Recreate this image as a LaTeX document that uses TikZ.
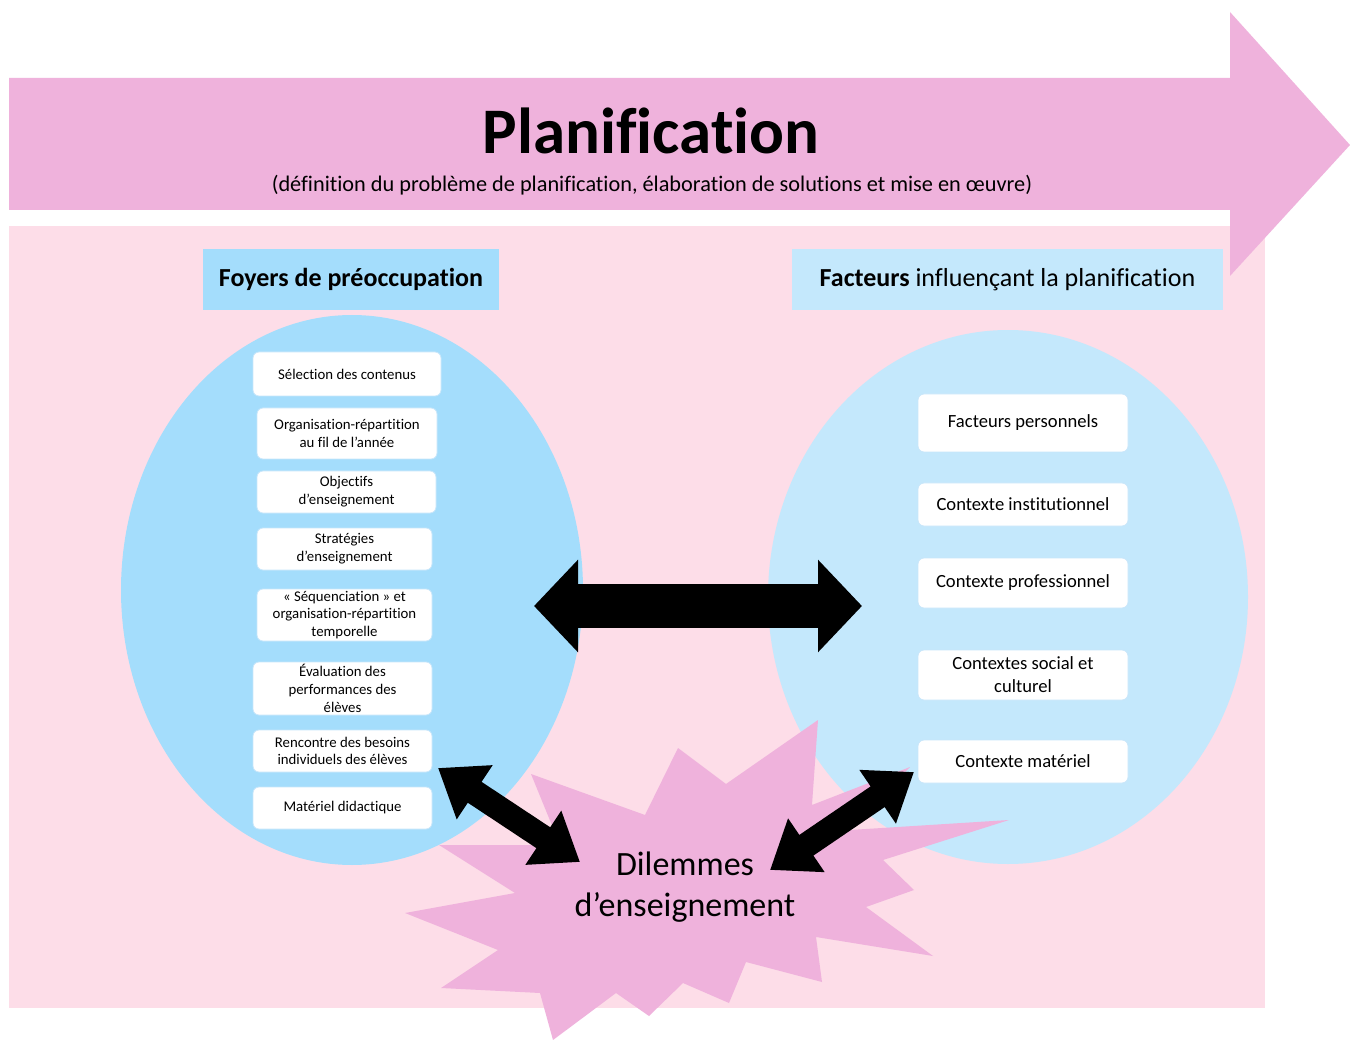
\documentclass[tikz,border=0pt]{standalone}
\usepackage{fontspec}
\setmainfont{Carlito}[Ligatures=NoCommon]
\usetikzlibrary{arrows.meta,shapes.geometric}
\definecolor{arrowpink}{RGB}{239,178,220}
\definecolor{bgpink}{RGB}{253,221,232}
\definecolor{blueA}{RGB}{164,221,252}
\definecolor{blueB}{RGB}{196,232,252}
\definecolor{boxline}{RGB}{200,230,250}
\tikzset{
  lbox/.style={draw=boxline, line width=0.8pt, fill=white, rounded corners=6pt, align=center,
    inner sep=1pt, font=\fontsize{14.8}{17.8}\selectfont},
  rbox/.style={draw=boxline, line width=0.8pt, fill=white, rounded corners=6pt, align=center,
    inner sep=1pt, minimum width=210pt, font=\fontsize{18.6}{23}\selectfont},
  hdr/.style={inner sep=0pt, font=\bfseries\fontsize{26}{30}\selectfont},
  fatarrows/.style={line width=44pt, {Triangle[length=44pt,width=90pt]}-{Triangle[length=44pt,width=90pt]}},
  diagarrows/.style={line width=25pt, {Triangle[length=44pt,width=62pt]}-{Triangle[length=44pt,width=62pt]}},
}
\begin{document}
\begin{tikzpicture}[x=1pt,y=-1pt]
\useasboundingbox (0,0) rectangle (1350,1040);
\fill[white] (0,0) rectangle (1350,1040);
% background panel
\fill[bgpink] (9,226) rectangle (1265,1008);
% big arrow
\fill[arrowpink] (9,78) -- (1230,78) -- (1230,12) -- (1350,145) -- (1230,276) -- (1230,210) -- (9,210) -- cycle;
\node[font=\bfseries\fontsize{65}{70}\selectfont, inner sep=0pt] (title) at (651,131) {Planification};
\node[font=\fontsize{22.3}{26}\selectfont, inner sep=0pt] (sub) at (652,185) {(définition du problème de planification, élaboration de solutions et mise en œuvre)};
% ellipses
\node[ellipse, fill=blueA, inner sep=0pt, minimum width=462pt, minimum height=550pt] (lell) at (352,590) {};
\node[ellipse, fill=blueB, inner sep=0pt, minimum width=480pt, minimum height=534pt] (rell) at (1008,597) {};
% star
\fill[arrowpink] (531,774) -- (645,815) -- (678,748) -- (726,784) -- (818,720) -- (812,805)
  -- (910,767) -- (850,830) -- (1009,820) -- (883,860) -- (914,890) -- (866,907)
  -- (933,956) -- (816,937) -- (822,982) -- (746,962) -- (729,1003) -- (683,983)
  -- (649,1016) -- (616,993) -- (553,1040) -- (540,993) -- (441,988) -- (498,950)
  -- (405,913) -- (515,893) -- (439,845) -- (560,845) -- cycle;
% headers
\node[fill=blueA, minimum width=296pt, minimum height=61pt, hdr] (hl) at (351,279.5) {Foyers de préoccupation};
\node[fill=blueB, minimum width=431pt, minimum height=61pt, hdr] (hr) at (1007.5,279.5) {Facteurs \mdseries influençant la planification};
% left boxes
\node[lbox, minimum width=188pt, minimum height=44pt] (l1) at (347,374) {Sélection des contenus};
\node[lbox, minimum width=180pt, minimum height=51pt] (l2) at (347,433.5) {Organisation-répartition\\au fil de l’année};
\node[lbox, minimum width=179pt, minimum height=42pt] (l3) at (346.5,492) {Objectifs\\d’enseignement};
\node[lbox, minimum width=175pt, minimum height=42pt] (l4) at (344.5,549) {Stratégies\\d’enseignement};
\node[lbox, minimum width=175pt, minimum height=52pt] (l5) at (344.5,615) {« Séquenciation » et\\organisation-répartition\\temporelle};
\node[lbox, minimum width=179pt, minimum height=53pt] (l6) at (342.5,688.5) {Évaluation des\\performances des\\élèves};
\node[lbox, minimum width=179pt, minimum height=42pt] (l7) at (342.5,751) {Rencontre des besoins\\individuels des élèves};
\node[lbox, minimum width=179pt, minimum height=42pt] (l8) at (342.5,808) {Matériel didactique};
% right boxes
\node[rbox, minimum height=58pt] (r1) at (1023,423) {Facteurs personnels};
\node[rbox, minimum height=43pt] (r2) at (1023,504.5) {Contexte institutionnel};
\node[rbox, minimum height=50pt] (r3) at (1023,583) {Contexte professionnel};
\node[rbox, minimum height=50pt] (r4) at (1023,675) {Contextes social et\\culturel};
\node[rbox, minimum height=43pt] (r5) at (1023,761.5) {Contexte matériel};
% dilemmes text
\node[align=center, inner sep=0pt, font=\fontsize{34}{41}\selectfont] (dil) at (685,887) {Dilemmes\\d’enseignement};
% arrows
\coordinate (hL) at (534,606);
\coordinate (hR) at (862,606);
\coordinate (dL1) at (438,768);
\coordinate (dL2) at (580,862);
\coordinate (dR1) at (770,870);
\coordinate (dR2) at (914,772);
\draw[fatarrows] (hL) -- (hR);
\draw[diagarrows] (dL1) -- (dL2);
\draw[diagarrows] (dR1) -- (dR2);
\end{tikzpicture}
\end{document}
